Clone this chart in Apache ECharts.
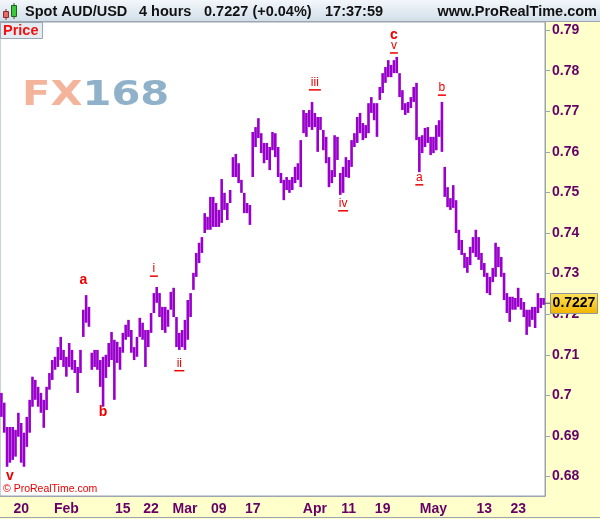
<!DOCTYPE html>
<html>
<head>
<meta charset="utf-8">
<title>Spot AUD/USD 4 hours</title>
<script src="https://cdn.jsdelivr.net/npm/echarts@6.0.0/dist/echarts.min.js"></script>
<style>
    html, body { margin: 0; padding: 0; background: #fff; }
    #chart { width: 600px; height: 519px; }
</style>
</head>
<body>
<div id="chart"></div>
<script>
// half-day high / low of AUD/USD, Jan 14 2016 (pm) .. May 27 2016
var highs = [
    0.7006, 0.6982, 0.6922, 0.6922, 0.6922, 0.6915, 0.6957, 0.6932, 0.6908, 0.6947,
    0.6989, 0.7046, 0.7038, 0.7021, 0.7006, 0.6989, 0.7021, 0.7055, 0.7087, 0.7095,
    0.7119, 0.7144, 0.7112, 0.7095, 0.7129, 0.7112, 0.7087, 0.7070, 0.7112, 0.7211,
    0.7247, 0.7218, 0.7105, 0.7112, 0.7112, 0.7087, 0.7095, 0.7100, 0.7129, 0.7156,
    0.7137, 0.7132, 0.7119, 0.7154, 0.7174, 0.7186, 0.7161, 0.7119, 0.7144, 0.7191,
    0.7179, 0.7161, 0.7161, 0.7203, 0.7252, 0.7267, 0.7252, 0.7218, 0.7218, 0.7211,
    0.7255, 0.7265, 0.7193, 0.7154, 0.7161, 0.7186, 0.7235, 0.7252, 0.7302, 0.7351,
    0.7376, 0.7390, 0.7449, 0.7440, 0.7489, 0.7489, 0.7474, 0.7457, 0.7533, 0.7499,
    0.7474, 0.7506, 0.7587, 0.7595, 0.7572, 0.7531, 0.7499, 0.7474, 0.7469, 0.7649,
    0.7661, 0.7683, 0.7646, 0.7622, 0.7622, 0.7612, 0.7649, 0.7646, 0.7612, 0.7548,
    0.7531, 0.7538, 0.7531, 0.7538, 0.7563, 0.7572, 0.7629, 0.7703, 0.7696, 0.7703,
    0.7723, 0.7696, 0.7686, 0.7686, 0.7654, 0.7637, 0.7587, 0.7555, 0.7641, 0.7637,
    0.7548, 0.7563, 0.7587, 0.7580, 0.7629, 0.7646, 0.7686, 0.7696, 0.7671, 0.7666,
    0.7720, 0.7735, 0.7720, 0.7720, 0.7760, 0.7794, 0.7809, 0.7826, 0.7814, 0.7826,
    0.7834, 0.7794, 0.7752, 0.7720, 0.7723, 0.7735, 0.7760, 0.7770, 0.7637, 0.7641,
    0.7659, 0.7661, 0.7637, 0.7637, 0.7666, 0.7678, 0.7723, 0.7563, 0.7513, 0.7486,
    0.7518, 0.7481, 0.7408, 0.7383, 0.7351, 0.7341, 0.7366, 0.7390, 0.7408, 0.7390,
    0.7351, 0.7326, 0.7302, 0.7292, 0.7314, 0.7376, 0.7366, 0.7341, 0.7302, 0.7252,
    0.7243, 0.7243, 0.7240, 0.7265, 0.7240, 0.7230, 0.7211, 0.7211, 0.7218, 0.7218,
    0.7252, 0.7240, 0.7240
];
var lows = [
    0.6947, 0.6908, 0.6824, 0.6834, 0.6841, 0.6849, 0.6898, 0.6834, 0.6824, 0.6873,
    0.6908, 0.6972, 0.6989, 0.6972, 0.6957, 0.6920, 0.6964, 0.7014, 0.7038, 0.7063,
    0.7070, 0.7087, 0.7070, 0.7046, 0.7070, 0.7063, 0.7055, 0.7006, 0.7055, 0.7144,
    0.7179, 0.7169, 0.7063, 0.7070, 0.7063, 0.7021, 0.6972, 0.7043, 0.7070, 0.7087,
    0.6989, 0.7080, 0.7063, 0.7105, 0.7137, 0.7144, 0.7105, 0.7087, 0.7095, 0.7144,
    0.7137, 0.7070, 0.7119, 0.7154, 0.7203, 0.7228, 0.7193, 0.7161, 0.7154, 0.7169,
    0.7211, 0.7193, 0.7119, 0.7112, 0.7119, 0.7112, 0.7137, 0.7193, 0.7260, 0.7292,
    0.7326, 0.7351, 0.7400, 0.7408, 0.7408, 0.7415, 0.7415, 0.7415, 0.7425, 0.7457,
    0.7432, 0.7474, 0.7538, 0.7538, 0.7523, 0.7499, 0.7449, 0.7449, 0.7420, 0.7538,
    0.7612, 0.7634, 0.7597, 0.7572, 0.7580, 0.7555, 0.7604, 0.7587, 0.7538, 0.7523,
    0.7481, 0.7506, 0.7499, 0.7506, 0.7523, 0.7531, 0.7513, 0.7646, 0.7637, 0.7661,
    0.7654, 0.7661, 0.7600, 0.7654, 0.7604, 0.7572, 0.7513, 0.7523, 0.7538, 0.7580,
    0.7494, 0.7499, 0.7538, 0.7536, 0.7563, 0.7612, 0.7622, 0.7646, 0.7629, 0.7634,
    0.7646, 0.7696, 0.7678, 0.7637, 0.7728, 0.7745, 0.7770, 0.7784, 0.7784, 0.7794,
    0.7794, 0.7735, 0.7703, 0.7691, 0.7696, 0.7708, 0.7723, 0.7629, 0.7550, 0.7597,
    0.7612, 0.7622, 0.7592, 0.7597, 0.7604, 0.7637, 0.7600, 0.7489, 0.7464, 0.7457,
    0.7462, 0.7400, 0.7358, 0.7346, 0.7314, 0.7302, 0.7321, 0.7351, 0.7341, 0.7334,
    0.7309, 0.7292, 0.7252, 0.7247, 0.7279, 0.7292, 0.7316, 0.7292, 0.7235, 0.7203,
    0.7181, 0.7211, 0.7211, 0.7218, 0.7211, 0.7193, 0.7149, 0.7169, 0.7186, 0.7166,
    0.7203, 0.7215, 0.7223
];
var lastPrice = 0.7227;
var firstDay = '2016-01-14';
var lastDay = '2016-05-27';

var xTickDays = ['2016-01-20', '2016-02-01', '2016-02-15', '2016-02-22', '2016-03-01', '2016-03-09', '2016-03-17',
    '2016-04-01', '2016-04-11', '2016-04-19', '2016-05-02', '2016-05-13', '2016-05-23'];
var xTickLabels = ['20', 'Feb', '15', '22', 'Mar', '09', '17', 'Apr', '11', '19', 'May', '13', '23'];
var yTicks = [0.68, 0.69, 0.70, 0.71, 0.72, 0.73, 0.74, 0.75, 0.76, 0.77, 0.78, 0.79];

// Elliott wave marks
var waveText = ['v', 'a', 'b', 'i', 'ii', 'iii', 'iv', 'c', 'v', 'a', 'b'];
var waveDate = ['2016-01-18 00h', '2016-02-04 00h', '2016-02-09 12h', '2016-02-22 12h', '2016-02-29 00h', '2016-04-01 00h',
    '2016-04-08 00h', '2016-04-21 00h', '2016-04-21 00h', '2016-04-27 12h', '2016-05-03 12h'];
var wavePrice = [0.6802, 0.7284, 0.6959, 0.7311, 0.7078, 0.7770, 0.7472, 0.7888, 0.7861, 0.7536, 0.7757];
var waveBold = [true, true, true, false, false, false, false, true, false, false, false];

var FONT = '"Liberation Sans", Arial, sans-serif';
var PURPLE = '#9900cc';
var RED = '#ee0000';
var AXIS_TEXT = '#660066';
var BORDER = '#9aa5b1';

// trading days, two half-day bars each
var categories = [];
var day = new Date(firstDay + 'T00:00:00Z');
var end = new Date(lastDay + 'T00:00:00Z');
while (day <= end) {
    var wd = day.getUTCDay();
    if (wd !== 0 && wd !== 6) {
        var s = day.toISOString().slice(0, 10);
        if (s !== firstDay) categories.push(s + ' 00h');
        categories.push(s + ' 12h');
    }
    day.setUTCDate(day.getUTCDate() + 1);
}

var tickLabel = {};
xTickDays.forEach(function (d, i) {
    tickLabel[categories.indexOf(d + ' 00h')] = xTickLabels[i];
});
var isTick = function (index) { return tickLabel[index] !== undefined; };

var barData = categories.map(function (c, i) { return [i, lows[i], highs[i]]; });
var waveData = waveText.map(function (t, i) { return [categories.indexOf(waveDate[i]), wavePrice[i]]; });

var chart = echarts.init(document.getElementById('chart'));

chart.setOption({
    animation: false,
    backgroundColor: '#ffffcc',
    grid: {
        left: 0, right: 55, top: 22, bottom: 23,
        show: true, backgroundColor: '#ffffff', borderColor: BORDER, borderWidth: 1
    },
    xAxis: {
        type: 'category',
        data: categories,
        boundaryGap: true,
        axisLine: { lineStyle: { color: BORDER } },
        axisTick: { interval: isTick, length: 5, lineStyle: { color: BORDER } },
        axisLabel: {
            interval: isTick,
            formatter: function (v, i) { return tickLabel[i] || ''; },
            color: AXIS_TEXT, fontWeight: 'bold', fontSize: 14, fontFamily: FONT, margin: 6
        },
        splitLine: { show: false }
    },
    yAxis: {
        type: 'value',
        position: 'right',
        min: 0.6752,
        max: 0.7920,
        axisLine: { show: true, lineStyle: { color: BORDER } },
        axisTick: { show: true, length: 5, customValues: yTicks, lineStyle: { color: BORDER } },
        axisLabel: {
            customValues: yTicks,
            formatter: function (v) { return String(Math.round(v * 100) / 100); },
            color: AXIS_TEXT, fontWeight: 'bold', fontSize: 14, fontFamily: FONT, margin: 7
        },
        splitLine: { show: false }
    },
    series: [
        {
            name: 'AUD/USD',
            type: 'custom',
            silent: true,
            data: barData,
            encode: { x: 0, y: [1, 2] },
            renderItem: function (params, api) {
                var x = api.value(0);
                var lo = api.coord([x, api.value(1)]);
                var hi = api.coord([x, api.value(2)]);
                return {
                    type: 'line',
                    shape: { x1: lo[0], y1: lo[1], x2: hi[0], y2: hi[1] },
                    style: { stroke: PURPLE, lineWidth: 2.6 }
                };
            }
        },
        {
            name: 'waves',
            type: 'custom',
            silent: true,
            data: waveData,
            encode: { x: 0, y: 1 },
            renderItem: function (params, api) {
                var i = params.dataIndex;
                var p = api.coord([api.value(0), api.value(1)]);
                var bold = waveBold[i];
                var children = [{
                    type: 'text',
                    style: {
                        text: waveText[i], x: p[0], y: p[1], align: 'center', verticalAlign: 'middle',
                        fill: RED, font: (bold ? 'bold 14px ' : '12px ') + FONT
                    }
                }];
                if (!bold) {
                    var hw = 3 + waveText[i].length;
                    children.push({
                        type: 'line',
                        shape: { x1: p[0] - hw, y1: p[1] + 7, x2: p[0] + hw, y2: p[1] + 7 },
                        style: { stroke: RED, lineWidth: 1.5 }
                    });
                }
                return { type: 'group', children: children };
            }
        },
        {
            name: 'last',
            type: 'custom',
            silent: true,
            z: 20,
            data: [[categories.length - 1, lastPrice]],
            encode: { x: 0, y: 1 },
            renderItem: function (params, api) {
                var p = api.coord([api.value(0), api.value(1)]);
                var x0 = params.coordSys.x + params.coordSys.width;
                return {
                    type: 'group',
                    children: [
                        { type: 'line', shape: { x1: x0, y1: p[1], x2: x0 + 6, y2: p[1] }, style: { stroke: '#555', lineWidth: 1 } },
                        {
                            type: 'rect',
                            shape: { x: x0 + 5.5, y: Math.round(p[1]) - 9.5, width: 47, height: 20 },
                            style: {
                                fill: new echarts.graphic.LinearGradient(0, 0, 0, 1, [
                                    { offset: 0, color: '#ffe45c' },
                                    { offset: 1, color: '#f2b400' }
                                ]),
                                stroke: '#8c96a0', lineWidth: 1
                            }
                        },
                        {
                            type: 'text',
                            style: {
                                text: api.value(1).toFixed(4), x: x0 + 29, y: Math.round(p[1]) + 0.5,
                                align: 'center', verticalAlign: 'middle', fill: '#000', font: 'bold 14px ' + FONT
                            }
                        }
                    ]
                };
            }
        }
    ],
    graphic: [
        {
            type: 'text', x: 22, y: 96, scaleX: 1.26, z: 1, silent: true,
            style: {
                text: '{f|FX}{n|168}', verticalAlign: 'middle',
                rich: {
                    f: { fill: '#f4b49c', font: 'bold 33px "DejaVu Sans", sans-serif' },
                    n: { fill: '#8fb1c9', font: 'bold 33px "DejaVu Sans", sans-serif' }
                }
            }
        },
        {
            type: 'text', x: 3, y: 489, z: 5, silent: true,
            style: { text: '\u00a9 ProRealTime.com', fill: RED, font: '10.5px ' + FONT, verticalAlign: 'middle' }
        },
        {
            type: 'rect', z: 100, silent: true,
            shape: { x: 0, y: 0, width: 600, height: 21 },
            style: {
                fill: new echarts.graphic.LinearGradient(0, 0, 0, 1, [
                    { offset: 0, color: '#f3f7fb' },
                    { offset: 1, color: '#d2dfe9' }
                ])
            }
        },
        { type: 'line', z: 100, silent: true, shape: { x1: 0, y1: 21.5, x2: 600, y2: 21.5 }, style: { stroke: BORDER } },
        { type: 'line', z: 101, silent: true, shape: { x1: 6, y1: 9, x2: 6, y2: 20 }, style: { stroke: '#803030' } },
        { type: 'rect', z: 101, silent: true, shape: { x: 3.5, y: 11.5, width: 5, height: 6 }, style: { fill: '#e86a6a', stroke: '#803030' } },
        { type: 'line', z: 101, silent: true, shape: { x1: 14, y1: 3, x2: 14, y2: 19 }, style: { stroke: '#206020' } },
        { type: 'rect', z: 101, silent: true, shape: { x: 11.5, y: 5.5, width: 5, height: 11 }, style: { fill: '#3cc83c', stroke: '#206020' } },
        {
            type: 'text', x: 25, y: 12, z: 101, silent: true,
            style: { text: 'Spot AUD/USD', fill: '#111', font: 'bold 14.5px ' + FONT, verticalAlign: 'middle' }
        },
        {
            type: 'text', x: 139, y: 12, z: 101, silent: true,
            style: { text: '4 hours', fill: '#111', font: 'bold 14.5px ' + FONT, verticalAlign: 'middle' }
        },
        {
            type: 'text', x: 204, y: 12, z: 101, silent: true,
            style: { text: '0.7227 (+0.04%)', fill: '#111', font: 'bold 14.5px ' + FONT, verticalAlign: 'middle' }
        },
        {
            type: 'text', x: 325, y: 12, z: 101, silent: true,
            style: { text: '17:37:59', fill: '#111', font: 'bold 14.5px ' + FONT, verticalAlign: 'middle' }
        },
        {
            type: 'text', x: 597, y: 12, z: 101, silent: true,
            style: { text: 'www.ProRealTime.com', fill: '#111', font: 'bold 14.5px ' + FONT, align: 'right', verticalAlign: 'middle' }
        },
        {
            type: 'rect', z: 100, silent: true,
            shape: { x: 0.5, y: 22.5, width: 42, height: 16 },
            style: { fill: '#e4ebf1', stroke: BORDER }
        },
        {
            type: 'text', x: 3, y: 31, z: 101, silent: true,
            style: { text: 'Price', fill: '#f01010', font: 'bold 14.5px ' + FONT, verticalAlign: 'middle' }
        },
        { type: 'line', z: 5, silent: true, shape: { x1: 0, y1: 517.5, x2: 600, y2: 517.5 }, style: { stroke: BORDER } }
    ]
});
</script>
</body>
</html>
